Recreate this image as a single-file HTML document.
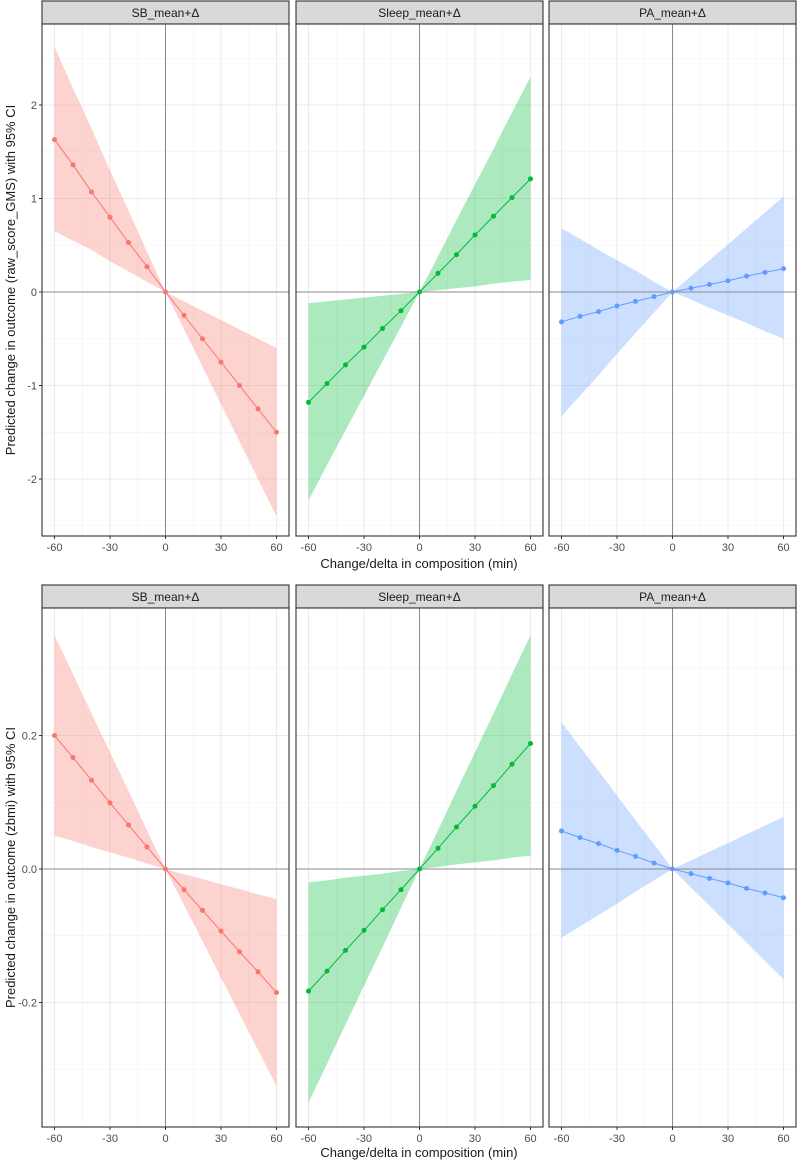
<!DOCTYPE html>
<html><head><meta charset="utf-8"><style>
html,body{margin:0;padding:0;background:#fff;}
svg text{font-family:"Liberation Sans",Arial,sans-serif;}
</style></head><body>
<svg id="chart" width="797" height="1161" xmlns="http://www.w3.org/2000/svg"></svg>
<script>
const xs = [-60,-50,-40,-30,-20,-10,0,10,20,30,40,50,60];
const xTicks = [-60,-30,0,30,60];
const panelNames = ["SB_mean+\u0394","Sleep_mean+\u0394","PA_mean+\u0394"];
// top row (raw_score_GMS)
const topSBfit = [1.63,1.36,1.07,0.80,0.53,0.27,0,-0.25,-0.50,-0.75,-1.00,-1.25,-1.50];
const topSBlo  = [0.65,0.55,0.45,0.33,0.22,0.11,0,-0.40,-0.80,-1.20,-1.60,-2.00,-2.40];
const topSBhi  = [2.62,2.18,1.75,1.30,0.87,0.43,0,-0.10,-0.20,-0.30,-0.40,-0.50,-0.60];
const topSLfit = [-1.18,-0.98,-0.78,-0.59,-0.39,-0.20,0,0.20,0.40,0.61,0.81,1.01,1.21];
const topSLlo  = [-2.23,-1.85,-1.48,-1.11,-0.74,-0.37,0,0.02,0.04,0.06,0.09,0.11,0.13];
const topSLhi  = [-0.12,-0.10,-0.08,-0.06,-0.04,-0.02,0,0.38,0.77,1.15,1.53,1.92,2.30];
const topPAfit = [-0.32,-0.26,-0.21,-0.15,-0.10,-0.05,0,0.04,0.08,0.12,0.17,0.21,0.25];
const topPAlo  = [-1.33,-1.11,-0.89,-0.66,-0.44,-0.22,0,-0.08,-0.17,-0.25,-0.33,-0.42,-0.50];
const topPAhi  = [0.68,0.57,0.45,0.34,0.23,0.11,0,0.17,0.34,0.51,0.68,0.85,1.02];
const topYTicks = [-2,-1,0,1,2];
const topYLabels = ["-2","-1","0","1","2"];
// bottom row (zbmi)
const botSBfit = [0.200,0.167,0.133,0.099,0.066,0.033,0,-0.031,-0.062,-0.093,-0.124,-0.154,-0.185];
const botSBlo  = [0.050,0.042,0.033,0.025,0.017,0.008,0,-0.054,-0.108,-0.163,-0.217,-0.271,-0.325];
const botSBhi  = [0.350,0.292,0.233,0.175,0.117,0.058,0,-0.008,-0.015,-0.023,-0.030,-0.038,-0.045];
const botSLfit = [-0.183,-0.153,-0.122,-0.092,-0.061,-0.031,0,0.031,0.063,0.094,0.125,0.157,0.188];
const botSLlo  = [-0.350,-0.292,-0.233,-0.175,-0.117,-0.058,0,0.003,0.007,0.010,0.013,0.017,0.020];
const botSLhi  = [-0.020,-0.017,-0.013,-0.010,-0.007,-0.003,0,0.058,0.117,0.175,0.233,0.292,0.350];
const botPAfit = [0.057,0.047,0.038,0.028,0.019,0.009,0,-0.007,-0.014,-0.021,-0.029,-0.036,-0.043];
const botPAlo  = [-0.103,-0.086,-0.069,-0.052,-0.034,-0.017,0,-0.028,-0.055,-0.083,-0.110,-0.138,-0.165];
const botPAhi  = [0.220,0.183,0.147,0.110,0.073,0.037,0,0.013,0.026,0.039,0.052,0.065,0.078];
const botYTicks = [-0.2,0,0.2];
const botYLabels = ["-0.2","0.0","0.2"];
const colors = ["#F8766D","#00BA38","#619CFF"];
const fills = ["rgba(248,118,109,0.32)","rgba(0,186,56,0.32)","rgba(97,156,255,0.32)"];

const svg = document.getElementById('chart');
const NS = "http://www.w3.org/2000/svg";
function mk(tag, attrs, parent){const e=document.createElementNS(NS,tag);for(const k in attrs)e.setAttribute(k,attrs[k]);(parent||svg).appendChild(e);return e;}

const panelsX = [[42,289],[296,543],[549,796]];
const rows = [
 {stripTop:1, top:24, bottom:536, y0:292, ppu:93.5, ticks:topYTicks, labels:topYLabels, minor:[-2.5,-1.5,-0.5,0.5,1.5,2.5],
  data:[[topSBfit,topSBlo,topSBhi],[topSLfit,topSLlo,topSLhi],[topPAfit,topPAlo,topPAhi]],
  ytitle:"Predicted change in outcome (raw_score_GMS) with 95% CI", xlabY:568},
 {stripTop:585, top:608, bottom:1127, y0:869, ppu:667.5, ticks:botYTicks, labels:botYLabels, minor:[-0.3,-0.1,0.1,0.3],
  data:[[botSBfit,botSBlo,botSBhi],[botSLfit,botSLlo,botSLhi],[botPAfit,botPAlo,botPAhi]],
  ytitle:"Predicted change in outcome (zbmi) with 95% CI", xlabY:1157}
];
const names=["sb","sleep","pa"];
rows.forEach((r,ri)=>{
  const yS = v => r.y0 - v*r.ppu;
  panelsX.forEach((px,pi)=>{
    const [L,R]=px; const cx=(L+R)/2;
    const xS = v => cx + v*1.85;
    const g = mk('g',{});
    
    
    const strip = mk('rect',{x:L,y:r.stripTop,width:R-L,height:r.top-r.stripTop,fill:'#d9d9d9',stroke:'#333','stroke-width':1.1},g);
    
    
    const st = mk('text',{x:cx,y:(r.stripTop+r.top)/2+4.5,'text-anchor':'middle','font-size':12,fill:'#1a1a1a'},g);
    st.textContent=panelNames[pi];
    
    
    mk('rect',{x:L,y:r.top,width:R-L,height:r.bottom-r.top,fill:'#fff'},g);
    [-45,-15,15,45].forEach(v=>mk('line',{x1:xS(v),x2:xS(v),y1:r.top,y2:r.bottom,stroke:'#f2f2f2','stroke-width':0.6},g));
    r.minor.forEach(v=>{const y=yS(v); if(y>r.top&&y<r.bottom) mk('line',{x1:L,x2:R,y1:y,y2:y,stroke:'#f2f2f2','stroke-width':0.6},g);});
    xTicks.forEach(v=>mk('line',{x1:xS(v),x2:xS(v),y1:r.top,y2:r.bottom,stroke:'#ebebeb','stroke-width':1.1},g));
    r.ticks.forEach(v=>mk('line',{x1:L,x2:R,y1:yS(v),y2:yS(v),stroke:'#ebebeb','stroke-width':1.1},g));
    const [fit,lo,hi]=r.data[pi];
    let d = xs.map((x,i)=>(i?'L':'M')+xS(x)+','+yS(hi[i])).join('');
    for(let i=xs.length-1;i>=0;i--) d+='L'+xS(xs[i])+','+yS(lo[i]);
    const rib = mk('path',{d:d+'Z',fill:fills[pi],stroke:'none'},g);
    
    
    mk('line',{x1:xS(0),x2:xS(0),y1:r.top,y2:r.bottom,stroke:'#8a8a8a','stroke-width':1},g);
    mk('line',{x1:L,x2:R,y1:yS(0),y2:yS(0),stroke:'#8a8a8a','stroke-width':1},g);
    const ln = mk('polyline',{points:xs.map((x,i)=>xS(x)+','+yS(fit[i])).join(' '),fill:'none',stroke:colors[pi],'stroke-width':1},g);
    
    
    xs.forEach((x,i)=>{
      const c = mk('circle',{cx:xS(x),cy:yS(fit[i]),r:2.5,fill:colors[pi]},g);
      
      
    });
    mk('rect',{x:L,y:r.top,width:R-L,height:r.bottom-r.top,fill:'none',stroke:'#333','stroke-width':1.1},g);
    xTicks.forEach(v=>{
      mk('line',{x1:xS(v),x2:xS(v),y1:r.bottom,y2:r.bottom+3,stroke:'#333'},g);
      const t=mk('text',{x:xS(v),y:r.bottom+15,'text-anchor':'middle','font-size':11,fill:'#4d4d4d'},g);
      t.textContent=String(v);
      
      
    });
    if(pi===0){
      r.ticks.forEach((v,i)=>{
        mk('line',{x1:L-3,x2:L,y1:yS(v),y2:yS(v),stroke:'#333'},g);
        const t=mk('text',{x:L-5,y:yS(v)+4,'text-anchor':'end','font-size':11,fill:'#4d4d4d'},g);
        t.textContent=r.labels[i];
        
        
      });
    }
  });
  const yt = mk('text',{x:0,y:0,'text-anchor':'middle','font-size':13,fill:'#1a1a1a',transform:'translate(15,'+((r.top+r.bottom)/2)+') rotate(-90)'});
  yt.textContent=r.ytitle;
  
  
  const xt = mk('text',{x:419,y:r.xlabY,'text-anchor':'middle','font-size':13,fill:'#1a1a1a'});
  xt.textContent="Change/delta in composition (min)";
  
  
});
</script>
</body></html>
